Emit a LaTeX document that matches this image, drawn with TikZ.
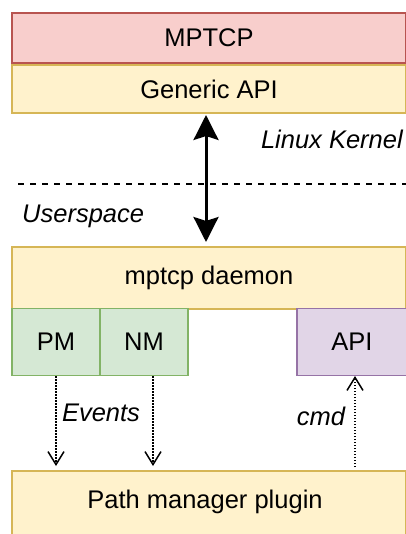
\documentclass[tikz,border=0pt]{standalone}
\usepackage{fontspec}
\setmainfont{Liberation Sans}
\usetikzlibrary{arrows.meta}

\definecolor{redfill}{HTML}{F8CECC}
\definecolor{redline}{HTML}{B85450}
\definecolor{yelfill}{HTML}{FFF2CC}
\definecolor{yelline}{HTML}{D6B656}
\definecolor{grnfill}{HTML}{D5E8D4}
\definecolor{grnline}{HTML}{82B366}
\definecolor{purfill}{HTML}{E1D5E7}
\definecolor{purline}{HTML}{9673A6}

\tikzset{
  layer/.style={rectangle, draw, line width=1.5pt, inner sep=0pt,
    font=\fontsize{25.5}{28}\selectfont},
  kernel/.style={layer, fill=redfill, draw=redline},
  part/.style={layer, fill=yelfill, draw=yelline},
  module/.style={layer, fill=grnfill, draw=grnline},
  iface/.style={layer, fill=purfill, draw=purline},
  tag/.style={font=\fontsize{25.5}{28}\selectfont\itshape, inner sep=0pt},
  bus/.style={line width=3pt, {Stealth[length=25pt,width=25pt,inset=4pt]}-{Stealth[length=25pt,width=25pt,inset=4pt]}},
  signal/.style={line width=1.5pt, dash pattern=on 1.5pt off 1.5pt,
    -{Straight Barb[length=13pt,width=16pt,line width=1.5pt]}},
  boundary/.style={line width=2pt, dash pattern=on 6pt off 6pt}
}

\begin{document}
\begin{tikzpicture}[x=1pt, y=-1pt]
  \useasboundingbox (0,0) rectangle (405,534);

  % kernel side
  \node[kernel, minimum width=394pt, minimum height=50pt] (mptcp) at (209,38) {MPTCP};
  \node[part, minimum width=394pt, minimum height=48pt] (generic) at (209,89) {Generic API};

  % userspace daemon and its modules
  \node[part, minimum width=394pt, minimum height=62pt] (daemon) at (209,278) {mptcp daemon};
  \node[module, minimum width=88pt, minimum height=67pt] (pm) at (56,342) {PM};
  \node[module, minimum width=88pt, minimum height=67pt] (nm) at (144,342) {NM};
  \node[iface, minimum width=110pt, minimum height=67pt] (api) at (352,342) {API};

  \node[part, minimum width=394pt, minimum height=80pt] (plugin) at (209,511) {};
  \node[font=\fontsize{25.5}{28}\selectfont] (pluginlabel) at (205,502) {Path manager plugin};

  % kernel / userspace boundary
  \coordinate (bl) at (18,184);
  \coordinate (br) at (406,184);
  \draw[boundary] (bl) -- (br);
  \node[tag, anchor=east] (lk) at (403,139) {Linux Kernel};
  \node[tag, anchor=west] (us) at (22,216) {Userspace};

  % netlink channel between kernel and daemon
  \coordinate (bustop) at (206,115);
  \coordinate (busbot) at (206,242);
  \draw[bus] (bustop) -- (busbot);

  % events to the plugin, commands back
  \coordinate (nmout) at (153,376);
  \coordinate (nmin) at (153,466);
  \coordinate (cmdout) at (355,467);
  \coordinate (cmdin) at (355,376);
  \draw[signal] (pm.south) -- (pm.south |- nmin);
  \draw[signal] (nmout) -- (nmin);
  \draw[signal] (cmdout) -- (cmdin);
  \node[tag] (ev) at (101,413) {Events};
  \node[tag] (cm) at (321,416) {cmd};
\end{tikzpicture}
\end{document}
